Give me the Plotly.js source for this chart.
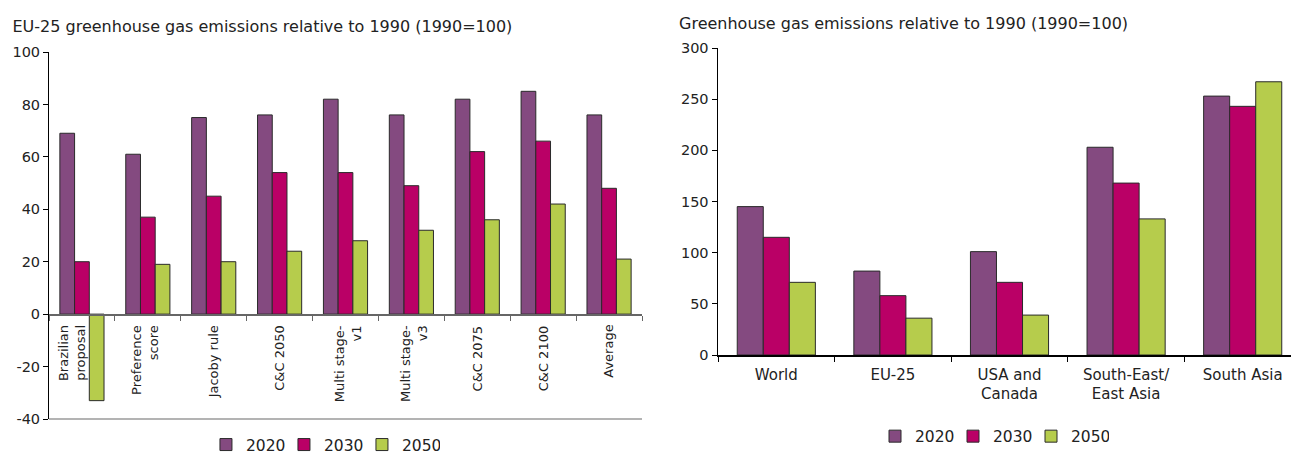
<!DOCTYPE html>
<html><head><meta charset="utf-8">
<script src="https://cdn.plot.ly/plotly-3.0.1.min.js"></script>
<style>
html,body{margin:0;padding:0;overflow:hidden;width:1291px;height:454px;background:#fff}
#left{position:absolute;left:0;top:0;width:660px;height:480px}
#right{position:absolute;left:660px;top:0;width:700px;height:480px}
</style>
</head><body><div id="left"></div><div id="right"></div>
<script>
const years = ['2020', '2030', '2050'];
const colors = ['#844A80', '#BA0066', '#B6CC4C'];

const leftTitle = 'EU-25 greenhouse gas emissions relative to 1990 (1990=100)';
const leftCategories = ['Brazilian<br>proposal', 'Preference<br>score', 'Jacoby rule', 'C&C 2050',
  'Multi stage-<br>v1', 'Multi stage-<br>v3', 'C&C 2075', 'C&C 2100', 'Average'];
const left2020 = [69, 61, 75, 76, 82, 76, 82, 85, 76];
const left2030 = [20, 37, 45, 54, 54, 49, 62, 66, 48];
const left2050 = [-33, 19, 20, 24, 28, 32, 36, 42, 21];
const leftYTicks = [-40, -20, 0, 20, 40, 60, 80, 100];

const rightTitle = 'Greenhouse gas emissions relative to 1990 (1990=100)';
const rightCategories = ['World', 'EU-25', 'USA and<br>Canada', 'South-East/<br>East Asia', 'South Asia'];
const right2020 = [145, 82, 101, 203, 253];
const right2030 = [115, 58, 71, 168, 243];
const right2050 = [71, 36, 39, 133, 267];
const rightYTicks = [0, 50, 100, 150, 200, 250, 300];

const FONT = 'DejaVu Sans, Verdana, sans-serif';
const TXT = '#222';
const H = 480;

function traces(cats, series) {
  return series.map((vals, i) => ({
    type: 'bar', name: years[i], x: cats, y: vals,
    marker: {color: colors[i], line: {color: '#2a2a2a', width: 1}},
    hoverinfo: 'x+y'
  }));
}

// small horizontal nudges for the two first (two-line) labels, as in the reference
const labelNudge = {0: -10, 1: -3, 4: 2, 5: 2};

// rotated category labels for the left chart, hung just under the zero line
const leftLabels = leftCategories.map((c, i) => ({
  xref: 'x', yref: 'y', x: c, y: 0, text: c, showarrow: false,
  textangle: -90, align: 'right', xanchor: 'center', yanchor: 'top',
  yshift: -9, xshift: labelNudge[i] || 0,
  font: {size: 13, color: TXT, family: FONT}
}));

// Left chart
const leftLayout = {
  width: 660, height: H,
  margin: {l: 49, r: 18, t: 52.3, b: 34.5 + (H - 454), autoexpand: false},
  paper_bgcolor: '#fff', plot_bgcolor: '#fff',
  font: {family: FONT, color: TXT, size: 14},
  title: {text: leftTitle, font: {family: FONT, size: 16, color: TXT},
    x: 12.5 / 660, xref: 'container', xanchor: 'left', y: 1 - 26 / H, yref: 'container', yanchor: 'middle'},
  barmode: 'group', bargap: 0.33, bargroupgap: 0,
  xaxis: {
    anchor: 'free', position: 40 / 140,
    showline: true, linecolor: '#666', linewidth: 1.5,
    ticks: 'outside', tickson: 'boundaries', ticklen: 5, tickcolor: '#666',
    showticklabels: false,
    showgrid: false, zeroline: false, fixedrange: true
  },
  yaxis: {
    range: [-40, 100], tickvals: leftYTicks, ticktext: leftYTicks.map(String),
    showline: true, linecolor: '#000', linewidth: 1,
    ticks: 'outside', ticklen: 5, tickcolor: '#000',
    tickfont: {size: 14.5, color: TXT, family: FONT},
    showgrid: false, zeroline: false, fixedrange: true
  },
  annotations: leftLabels,
  shapes: [{type: 'line', xref: 'paper', yref: 'paper', x0: 0, x1: 1, y0: 0, y1: 0,
    line: {color: '#9a9a9a', width: 1.5}}],
  legend: {orientation: 'h', x: 0.462, xanchor: 'center', y: -(445.5 - 419.5) / 367.2, yanchor: 'middle',
    font: {size: 15.5, color: TXT, family: FONT}, entrywidth: 33, traceorder: 'normal'},
  showlegend: true
};

// Right chart
const rightLayout = {
  width: 700, height: H,
  margin: {l: 57.7, r: 58.7, t: 48.3, b: 98.5 + (H - 454), autoexpand: false},
  paper_bgcolor: '#fff', plot_bgcolor: '#fff',
  font: {family: FONT, color: TXT, size: 14},
  title: {text: rightTitle, font: {family: FONT, size: 16, color: TXT},
    x: 19 / 700, xref: 'container', xanchor: 'left', y: 1 - 23.3 / H, yref: 'container', yanchor: 'middle'},
  barmode: 'group', bargap: 0.33, bargroupgap: 0,
  xaxis: {
    showline: true, linecolor: '#000', linewidth: 1.5,
    ticks: 'outside', tickson: 'boundaries', ticklen: 5, tickcolor: '#000',
    ticklabelstandoff: 5,
    tickangle: 0, tickfont: {size: 15, color: TXT, family: FONT},
    showgrid: false, zeroline: false, fixedrange: true
  },
  yaxis: {
    range: [0, 300], tickvals: rightYTicks, ticktext: rightYTicks.map(String),
    showline: true, linecolor: '#000', linewidth: 1.5,
    ticks: 'outside', ticklen: 5, tickcolor: '#000',
    tickfont: {size: 14.5, color: TXT, family: FONT},
    showgrid: false, zeroline: false, fixedrange: true
  },
  legend: {orientation: 'h', x: 0.47, xanchor: 'center', y: -(437 - 355.5) / 306.7, yanchor: 'middle',
    font: {size: 15.5, color: TXT, family: FONT}, entrywidth: 33, traceorder: 'normal'},
  showlegend: true
};

const cfg = {displayModeBar: false, staticPlot: true};
Plotly.newPlot('left', traces(leftCategories, [left2020, left2030, left2050]), leftLayout, cfg);
Plotly.newPlot('right', traces(rightCategories, [right2020, right2030, right2050]), rightLayout, cfg);
</script>
</body></html>
